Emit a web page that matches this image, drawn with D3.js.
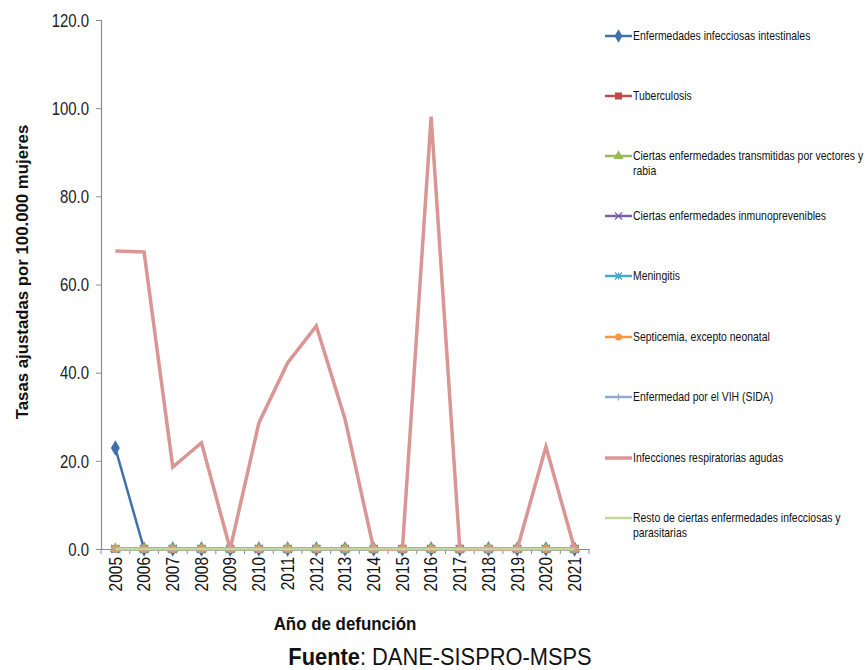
<!DOCTYPE html>
<html>
<head>
<meta charset="utf-8">
<script src="https://cdn.jsdelivr.net/npm/d3@7"></script>
<style>
  html, body { margin: 0; padding: 0; background: #fff; }
  svg { display: block; }
  text { font-family: "Liberation Sans Narrow", "Arial Narrow", "Liberation Sans", Arial, sans-serif; }
</style>
</head>
<body>
<svg id="chart" width="867" height="670"></svg>
<script>
// Años de defunción
const years = ["2005","2006","2007","2008","2009","2010","2011","2012","2013","2014","2015","2016","2017","2018","2019","2020","2021"];

// Tasas ajustadas por 100.000 mujeres, por grupo de causas
const intestinales   = [22.9,0,0,0,0,0,0,0,0,0,0,0,0,0,0,0,0];
const tuberculosis   = [0,0,0,0,0,0,0,0,0,0,0,0,0,0,0,0,0];
const vectores       = [0,0,0,0,0,0,0,0,0,0,0,0,0,0,0,0,0];
const inmunoprev     = [0,0,0,0,0,0,0,0,0,0,0,0,0,0,0,0,0];
const meningitis     = [0,0,0,0,0,0,0,0,0,0,0,0,0,0,0,0,0];
const septicemia     = [0,0,0,0,0,0,0,0,0,0,0,0,0,0,0,0,0];
const vih            = [0,0,0,0,0,0,0,0,0,0,0,0,0,0,0,0,0];
const respiratorias  = [67.6,67.4,18.6,24.1,0,28.6,42.2,50.6,29.5,0,0,98.1,0,0,0,23.2,0];
const restoInfecc    = [0,0,0,0,0,0,0,0,0,0,0,0,0,0,0,0,0];

const seriesNames = [
  "Enfermedades infecciosas intestinales",
  "Tuberculosis",
  "Ciertas enfermedades transmitidas por vectores y rabia",
  "Ciertas enfermedades inmunoprevenibles",
  "Meningitis",
  "Septicemia, excepto neonatal",
  "Enfermedad por el VIH (SIDA)",
  "Infecciones respiratorias agudas",
  "Resto de ciertas enfermedades infecciosas y parasitarias"
];
const yTicks = [0, 20, 40, 60, 80, 100, 120];

const series = [
  { name: seriesNames[0], values: intestinales,  color: "#4170ad", marker: "diamond",  width: 2.5 },
  { name: seriesNames[1], values: tuberculosis,  color: "#be4b48", marker: "square",   width: 2.5 },
  { name: seriesNames[2], values: vectores,      color: "#98b954", marker: "triangle", width: 2.5 },
  { name: seriesNames[3], values: inmunoprev,    color: "#7d60a0", marker: "x",        width: 2.5 },
  { name: seriesNames[4], values: meningitis,    color: "#46aac5", marker: "asterisk", width: 2.5 },
  { name: seriesNames[5], values: septicemia,    color: "#f79646", marker: "circle",   width: 2.5 },
  { name: seriesNames[6], values: vih,           color: "#92a9cf", marker: "plus",     width: 2.5 },
  { name: seriesNames[7], values: respiratorias, color: "#d99694", marker: null,       width: 3.5 },
  { name: seriesNames[8], values: restoInfecc,   color: "#c3d69b", marker: null,       width: 2.5 }
];

const svg = d3.select("#chart");
const plot = { left: 101, right: 589, top: 20, bottom: 549 };

const x = d3.scaleBand().domain(years).range([plot.left, plot.right]);
const y = d3.scaleLinear().domain([0, 120]).range([plot.bottom, plot.top]);

// Eje Y
const yAxis = svg.append("g")
  .attr("transform", `translate(${plot.left},0)`)
  .call(d3.axisLeft(y).tickValues(yTicks).tickFormat(d3.format(".1f")).tickSize(5).tickPadding(0));
yAxis.select(".domain").attr("stroke", "#8c8c8c").attr("stroke-width", 1.2);
yAxis.selectAll(".tick line").attr("stroke", "#8c8c8c");
yAxis.selectAll(".tick text")
  .attr("font-size", 18).attr("fill", "#222")
  .attr("x", 0).attr("dy", "0.35em")
  .attr("transform", "translate(-12,0) scale(0.83,1)");

// Eje X
const xAxis = svg.append("g")
  .attr("transform", `translate(0,${plot.bottom})`)
  .call(d3.axisBottom(x).tickSize(0).tickSizeOuter(0));
xAxis.select(".domain").attr("stroke", "#8c8c8c").attr("stroke-width", 1.2);
// marcas entre categorías
svg.append("g").selectAll("line")
  .data(d3.range(years.length + 1))
  .join("line")
  .attr("x1", i => plot.left + i * x.bandwidth())
  .attr("x2", i => plot.left + i * x.bandwidth())
  .attr("y1", plot.bottom)
  .attr("y2", plot.bottom + 5)
  .attr("stroke", "#8c8c8c");
xAxis.selectAll(".tick text")
  .attr("font-size", 18)
  .attr("fill", "#111")
  .attr("transform", "translate(0,8) rotate(-90) scale(0.86,1)")
  .attr("text-anchor", "end")
  .attr("x", 0)
  .attr("y", 0)
  .attr("dy", "0.35em");

// Títulos de ejes
svg.append("text")
  .attr("transform", `translate(28,${272}) rotate(-90)`)
  .attr("text-anchor", "middle")
  .attr("font-size", 16.8)
  .attr("font-weight", "bold")
  .attr("fill", "#111")
  .text("Tasas ajustadas por 100.000 mujeres");

svg.append("text")
  .attr("transform", "translate(345,630) scale(0.94,1)")
  .attr("text-anchor", "middle")
  .attr("font-size", 18)
  .attr("font-weight", "bold")
  .attr("fill", "#111")
  .text("Año de defunción");

const src = svg.append("text")
  .attr("transform", "translate(440,665) scale(0.95,1)")
  .attr("text-anchor", "middle")
  .attr("font-size", 23)
  .attr("fill", "#111");
src.append("tspan").attr("font-weight", "bold").text("Fuente");
src.append("tspan").text(": DANE-SISPRO-MSPS");

// Marcadores
function drawMarker(g, type, color, size) {
  const s = size;
  switch (type) {
    case "diamond":
      g.append("path").attr("d", d3.symbol(d3.symbolDiamond, s * s * 1.1)()).attr("fill", color);
      break;
    case "square":
      g.append("rect").attr("x", -s / 2).attr("y", -s / 2).attr("width", s).attr("height", s).attr("fill", color);
      break;
    case "triangle":
      g.append("path").attr("d", d3.symbol(d3.symbolTriangle, s * s * 0.9)()).attr("fill", color);
      break;
    case "x":
      g.append("path").attr("d", `M${-s/2},${-s/2}L${s/2},${s/2}M${-s/2},${s/2}L${s/2},${-s/2}`)
        .attr("stroke", color).attr("stroke-width", 1.3).attr("fill", "none");
      break;
    case "asterisk":
      g.append("path").attr("d", `M${-s/2},${-s/2}L${s/2},${s/2}M${-s/2},${s/2}L${s/2},${-s/2}M0,${-s/2}L0,${s/2}`)
        .attr("stroke", color).attr("stroke-width", 1.3).attr("fill", "none");
      break;
    case "circle":
      g.append("circle").attr("r", s / 2).attr("fill", color);
      break;
    case "plus":
      g.append("path").attr("d", `M${-s/2},0L${s/2},0M0,${-s/2}L0,${s/2}`)
        .attr("stroke", color).attr("stroke-width", 1.3).attr("fill", "none");
      break;
  }
}

const line = d3.line()
  .x((d, i) => x(years[i]) + x.bandwidth() / 2)
  .y(d => y(d));

const plotG = svg.append("g");
series.forEach(s => {
  plotG.append("path")
    .datum(s.values)
    .attr("d", line)
    .attr("fill", "none")
    .attr("stroke", s.color)
    .attr("stroke-width", s.width)
    .attr("stroke-linejoin", "miter");
  if (s.marker) {
    s.values.forEach((v, i) => {
      const g = plotG.append("g")
        .attr("transform", `translate(${x(years[i]) + x.bandwidth() / 2},${y(v)})`);
      drawMarker(g, s.marker, s.color, 8);
    });
  }
});

// Leyenda
const legendY = [36, 96, 156, 216, 276, 337, 397, 458, 518];
const legend = svg.append("g");
series.forEach((s, i) => {
  const g = legend.append("g").attr("transform", `translate(605,${legendY[i]})`);
  g.append("line").attr("x1", 0).attr("x2", 27).attr("y1", 0).attr("y2", 0)
    .attr("stroke", s.color).attr("stroke-width", s.width);
  if (s.marker) {
    const m = g.append("g").attr("transform", "translate(13.5,0)");
    drawMarker(m, s.marker, s.color, 7);
  }
  const t = g.append("text")
    .attr("transform", "translate(28,0) scale(0.87,1)")
    .attr("x", 0).attr("y", 0).attr("dy", "0.35em")
    .attr("font-size", 12).attr("fill", "#111");
  if (i === 2) {
    t.append("tspan").text("Ciertas enfermedades transmitidas por vectores y");
    t.append("tspan").attr("x", 0).attr("dy", "1.25em").text("rabia");
  } else if (i === 8) {
    t.append("tspan").text("Resto de ciertas enfermedades infecciosas y");
    t.append("tspan").attr("x", 0).attr("dy", "1.25em").text("parasitarias");
  } else {
    t.text(s.name);
  }
});
</script>
</body>
</html>
